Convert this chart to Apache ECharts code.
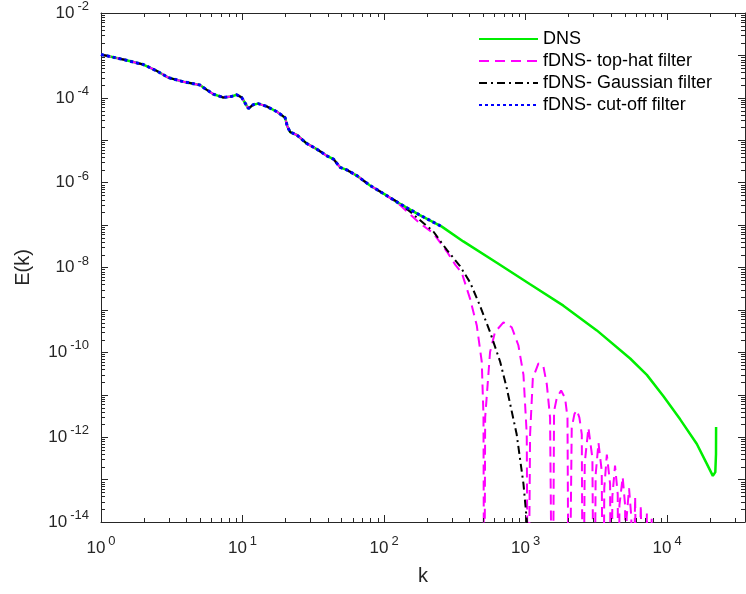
<!DOCTYPE html>
<html><head><meta charset="utf-8">
<script src="https://cdn.jsdelivr.net/npm/echarts@6/dist/echarts.min.js"></script>
<style>html,body{margin:0;padding:0;background:#fff}#c{width:746px;height:594px}</style>
</head><body><div id="c"></div>
<script>
// ---- data (k, E(k)) ----
const dnsK = [1, 1.44, 1.99, 2.48, 2.99, 3.82, 5.0, 5.58, 6.22, 7.31, 8.39, 9.1, 9.86, 11.0, 11.9, 12.9, 14.8, 17.5, 20.0, 20.7, 21.7, 24.2, 28.4, 33.4, 39.4, 43.9, 48.9, 54.5, 64.1, 79.6, 104, 126, 179, 256,
  363, 626, 1076, 1849, 3186, 5480, 7190, 9420, 12360, 16220, 19090, 21040, 21900, 22150, 22180];
const dnsE = [1.05e-3, 8.0e-4, 6.1e-4, 4.3e-4, 3.0e-4, 2.4e-4, 2.0e-4, 1.55e-4, 1.22e-4, 1.02e-4, 1.08e-4, 1.18e-4, 1.02e-4, 5.6e-5, 6.9e-5, 7.3e-5, 6.3e-5, 4.7e-5, 3.4e-5, 2.15e-5, 1.56e-5, 1.33e-5, 8.4e-6, 6.2e-6, 4.3e-6, 3.6e-6, 2.3e-6, 2.0e-6, 1.47e-6, 8.6e-7, 5.0e-7, 3.34e-7, 1.72e-7, 9.2e-8,
  4.12e-8, 1.29e-8, 4.02e-9, 1.26e-9, 3.29e-10, 7.16e-11, 2.94e-11, 9.2e-12, 2.63e-12, 6.9e-13, 2.35e-13, 1.22e-13, 1.5e-13, 4.0e-13, 1.74e-12];

const topHatK = [1, 1.44, 1.99, 2.48, 2.99, 3.82, 5.0, 5.58, 6.22, 7.31, 8.39, 9.1, 9.86, 11.0, 11.9, 12.9, 14.8, 17.5, 20.0, 20.7, 21.7, 24.2, 28.4, 33.4, 39.4, 43.9, 48.9, 54.5, 64.1, 79.6, 104,
  130, 179, 223, 277, 318, 354, 406, 452, 490, 504, 510,
  518, 561, 608, 697, 798, 889, 966, 1019, 1040,
  1076, 1125, 1233, 1337, 1413, 1489, 1550,
  1589, 1660, 1782, 1901, 1977, 2023,
  2118, 2213, 2301, 2399, 2495, 2541,
  2618, 2780, 2965, 3048,
  3126, 3273, 3451, 3532,
  3597, 3750, 3954, 4027,
  4102, 4285, 4477, 4539,
  4603, 4853, 5047, 5117,
  5176, 5383, 5585, 5649,
  5943, 6180,
  6516, 6808,
  7194, 7447,
  7780, 8035];
const topHatE = [1.05e-3, 8.0e-4, 6.1e-4, 4.3e-4, 3.0e-4, 2.4e-4, 2.0e-4, 1.55e-4, 1.22e-4, 1.02e-4, 1.08e-4, 1.18e-4, 1.02e-4, 5.6e-5, 6.9e-5, 7.3e-5, 6.3e-5, 4.7e-5, 3.4e-5, 2.15e-5, 1.56e-5, 1.33e-5, 8.4e-6, 6.2e-6, 4.3e-6, 3.6e-6, 2.3e-6, 2.0e-6, 1.47e-6, 8.6e-7, 5.0e-7,
  2.95e-7, 1.10e-7, 6.44e-8, 2.41e-8, 1.17e-8, 7.5e-9, 1.8e-9, 4.3e-10, 6.0e-11, 3.2e-12, 1e-18,
  2.9e-12, 1.02e-10, 3.0e-10, 5.1e-10, 3.9e-10, 1.47e-10, 2.95e-11, 1.17e-12, 1e-18,
  1.17e-12, 2.45e-11, 5.5e-11, 4.6e-11, 1.74e-11, 2.9e-12, 1e-18,
  4.1e-12, 8.3e-12, 1.26e-11, 8.3e-12, 2.9e-12, 1e-18,
  1.66e-12, 3.5e-12, 4.3e-12, 2.9e-12, 1.17e-12, 1e-18,
  2.5e-13, 1.66e-12, 3.2e-13, 1e-18,
  1.3e-13, 7.4e-13, 1.6e-13, 1e-18,
  6.3e-14, 3.9e-13, 7.9e-14, 1e-18,
  4.0e-14, 2.14e-13, 4.5e-14, 1e-18,
  2.5e-14, 1.15e-13, 2.5e-14, 1e-18,
  1.3e-14, 6.2e-14, 1.3e-14, 1e-18,
  3.9e-14, 1e-18,
  2.5e-14, 1e-18,
  1.58e-14, 1e-18,
  1.2e-14, 1e-18];

const gaussK = [1, 1.44, 1.99, 2.48, 2.99, 3.82, 5.0, 5.58, 6.22, 7.31, 8.39, 9.1, 9.86, 11.0, 11.9, 12.9, 14.8, 17.5, 20.0, 20.7, 21.7, 24.2, 28.4, 33.4, 39.4, 43.9, 48.9, 54.5, 64.1, 79.6, 104,
  130, 179, 223, 277, 344, 406, 476, 561, 661, 736, 865, 966, 1019, 1035];
const gaussE = [1.05e-3, 8.0e-4, 6.1e-4, 4.3e-4, 3.0e-4, 2.4e-4, 2.0e-4, 1.55e-4, 1.22e-4, 1.02e-4, 1.08e-4, 1.18e-4, 1.02e-4, 5.6e-5, 6.9e-5, 7.3e-5, 6.3e-5, 4.7e-5, 3.4e-5, 2.15e-5, 1.56e-5, 1.33e-5, 8.4e-6, 6.2e-6, 4.3e-6, 3.6e-6, 2.3e-6, 2.0e-6, 1.47e-6, 8.6e-7, 5.0e-7,
  3.24e-7, 1.32e-7, 7.05e-8, 2.63e-8, 1.08e-8, 4.4e-9, 1.26e-9, 3.0e-10, 6.0e-11, 1.43e-11, 1.17e-12, 7.9e-14, 1.12e-14, 5e-15];

const cutK = [1, 1.44, 1.99, 2.48, 2.99, 3.82, 5.0, 5.58, 6.22, 7.31, 8.39, 9.1, 9.86, 11.0, 11.9, 12.9, 14.8, 17.5, 20.0, 20.7, 21.7, 24.2, 28.4, 33.4, 39.4, 43.9, 48.9, 54.5, 64.1, 79.6, 104, 126, 179, 256];
const cutE = [1.05e-3, 8.0e-4, 6.1e-4, 4.3e-4, 3.0e-4, 2.4e-4, 2.0e-4, 1.55e-4, 1.22e-4, 1.02e-4, 1.08e-4, 1.18e-4, 1.02e-4, 5.6e-5, 6.9e-5, 7.3e-5, 6.3e-5, 4.7e-5, 3.4e-5, 2.15e-5, 1.56e-5, 1.33e-5, 8.4e-6, 6.2e-6, 4.3e-6, 3.6e-6, 2.3e-6, 2.0e-6, 1.47e-6, 8.6e-7, 5.0e-7, 3.34e-7, 1.72e-7, 9.2e-8];

const seriesNames = ['DNS', 'fDNS- top-hat filter', 'fDNS- Gaussian filter', 'fDNS- cut-off filter'];
const xMin = 1, xMax = 35500;
const yMin = 1e-14, yMax = 1e-2;
const xLabelExponents = [0, 1, 2, 3, 4];
const yLabelExponents = [-14, -12, -10, -8, -6, -4, -2];
const minorMultipliers = [2, 3, 4, 5, 6, 7, 8, 9];

(function () {
  const FONT = 'Liberation Sans, Arial, Helvetica, sans-serif';
  const AX = '#262626';
  function pairs(ks, es) { return ks.map((k, i) => [k, es[i]]); }
  function minorValues(lo, hi) {
    const out = [];
    for (let e = Math.floor(Math.log10(lo)); e <= Math.ceil(Math.log10(hi)); e++) {
      minorMultipliers.forEach(m => { const v = m * Math.pow(10, e); if (v > lo && v < hi) out.push(v); });
    }
    return out;
  }
  function expLabel(list) {
    return function (v) {
      const e = Math.round(Math.log10(v));
      if (Math.abs(Math.log10(v) - e) > 1e-6 || list.indexOf(e) < 0) return '';
      return '{b|10}{s|' + e + '}';
    };
  }
  const rich = {
    b: { fontSize: 17, fontFamily: FONT, color: AX, lineHeight: 26 },
    s: { fontSize: 13, fontFamily: FONT, color: AX, lineHeight: 10, verticalAlign: 'top', padding: [0, 0, 0, 3] }
  };
  function axisCommon(extra) {
    return Object.assign({
      type: 'log', logBase: 10,
      axisLine: { show: true, onZero: false, lineStyle: { color: AX, width: 1 } },
      axisTick: { show: true, inside: true, length: 7, lineStyle: { color: AX, width: 1 } },
      minorTick: { show: false },
      splitLine: { show: false },
      minorSplitLine: { show: false },
      interval: 1
    }, extra);
  }

  const chart = echarts.init(document.getElementById('c'), null, { renderer: 'canvas' });
  chart.setOption({
    animation: false,
    backgroundColor: '#fff',
    grid: { left: 101, right: 1, top: 7, bottom: 72, containLabel: false },
    legend: {
      orient: 'vertical', left: 478, top: 30, padding: 0, itemWidth: 59, itemHeight: 14, itemGap: 4,
      data: seriesNames,
      itemStyle: { color: 'rgba(0,0,0,0)', borderColor: 'rgba(0,0,0,0)', borderWidth: 0 },
      textStyle: { fontSize: 18, fontFamily: FONT, color: '#000' }
    },
    xAxis: [
      axisCommon({ position: 'bottom', min: xMin, max: xMax,
        name: 'k', nameLocation: 'middle', nameGap: 44,
        nameTextStyle: { fontSize: 20, fontFamily: FONT, color: AX },
        axisLabel: { show: true, margin: 13, formatter: expLabel(xLabelExponents), rich: rich, showMaxLabel: false } }),
      axisCommon({ position: 'top', min: xMin, max: xMax, axisLabel: { show: false } })
    ],
    yAxis: [
      axisCommon({ position: 'left', min: yMin, max: yMax,
        name: 'E(k)', nameLocation: 'middle', nameGap: 68,
        nameTextStyle: { fontSize: 20, fontFamily: FONT, color: AX },
        axisLabel: { show: true, margin: 12, formatter: expLabel(yLabelExponents), rich: rich, interval: 0 } }),
      axisCommon({ position: 'right', min: yMin, max: yMax, axisLabel: { show: false } })
    ],
    series: [
      { name: seriesNames[0], type: 'line', data: pairs(dnsK, dnsE), symbol: 'none', clip: true, z: 2,
        lineStyle: { color: '#00ee00', width: 2.5 }, itemStyle: { color: '#00ee00' } },
      { name: seriesNames[1], type: 'line', data: pairs(topHatK, topHatE), symbol: 'none', clip: true, z: 3,
        lineStyle: { color: '#ff00ff', width: 2, type: [10, 6] }, itemStyle: { color: '#ff00ff' } },
      { name: seriesNames[2], type: 'line', data: pairs(gaussK, gaussE), symbol: 'none', clip: true, z: 4,
        lineStyle: { color: '#000000', width: 2, type: [8, 4, 2, 4] }, itemStyle: { color: '#000000' } },
      { name: seriesNames[3], type: 'line', data: pairs(cutK, cutE), symbol: 'none', clip: true, z: 5,
        lineStyle: { color: '#0000ff', width: 3, type: [3, 3] }, itemStyle: { color: '#0000ff' } }
    ]
  });

  // minor (log) ticks, positioned through the axes' own scales
  const minorLen = 4;
  const px = v => chart.convertToPixel({ xAxisIndex: 0 }, v);
  const py = v => chart.convertToPixel({ yAxisIndex: 0 }, v);
  const gL = px(xMin), gR = px(xMax), gB = py(yMin), gT = py(yMax);
  const crisp = v => Math.round(v) + 0.5;
  const ticks = [];
  minorValues(xMin, xMax).forEach(v => {
    const x = crisp(px(v));
    ticks.push({ type: 'line', silent: true, z: 10, shape: { x1: x, y1: gB, x2: x, y2: gB - minorLen }, style: { stroke: AX, lineWidth: 1 } });
    ticks.push({ type: 'line', silent: true, z: 10, shape: { x1: x, y1: gT, x2: x, y2: gT + minorLen }, style: { stroke: AX, lineWidth: 1 } });
  });
  minorValues(yMin, yMax).forEach(v => {
    const y = crisp(py(v));
    ticks.push({ type: 'line', silent: true, z: 10, shape: { x1: gL, y1: y, x2: gL + minorLen, y2: y }, style: { stroke: AX, lineWidth: 1 } });
    ticks.push({ type: 'line', silent: true, z: 10, shape: { x1: gR, y1: y, x2: gR - minorLen, y2: y }, style: { stroke: AX, lineWidth: 1 } });
  });
  chart.setOption({ graphic: { elements: ticks } });
})();
</script></body></html>
